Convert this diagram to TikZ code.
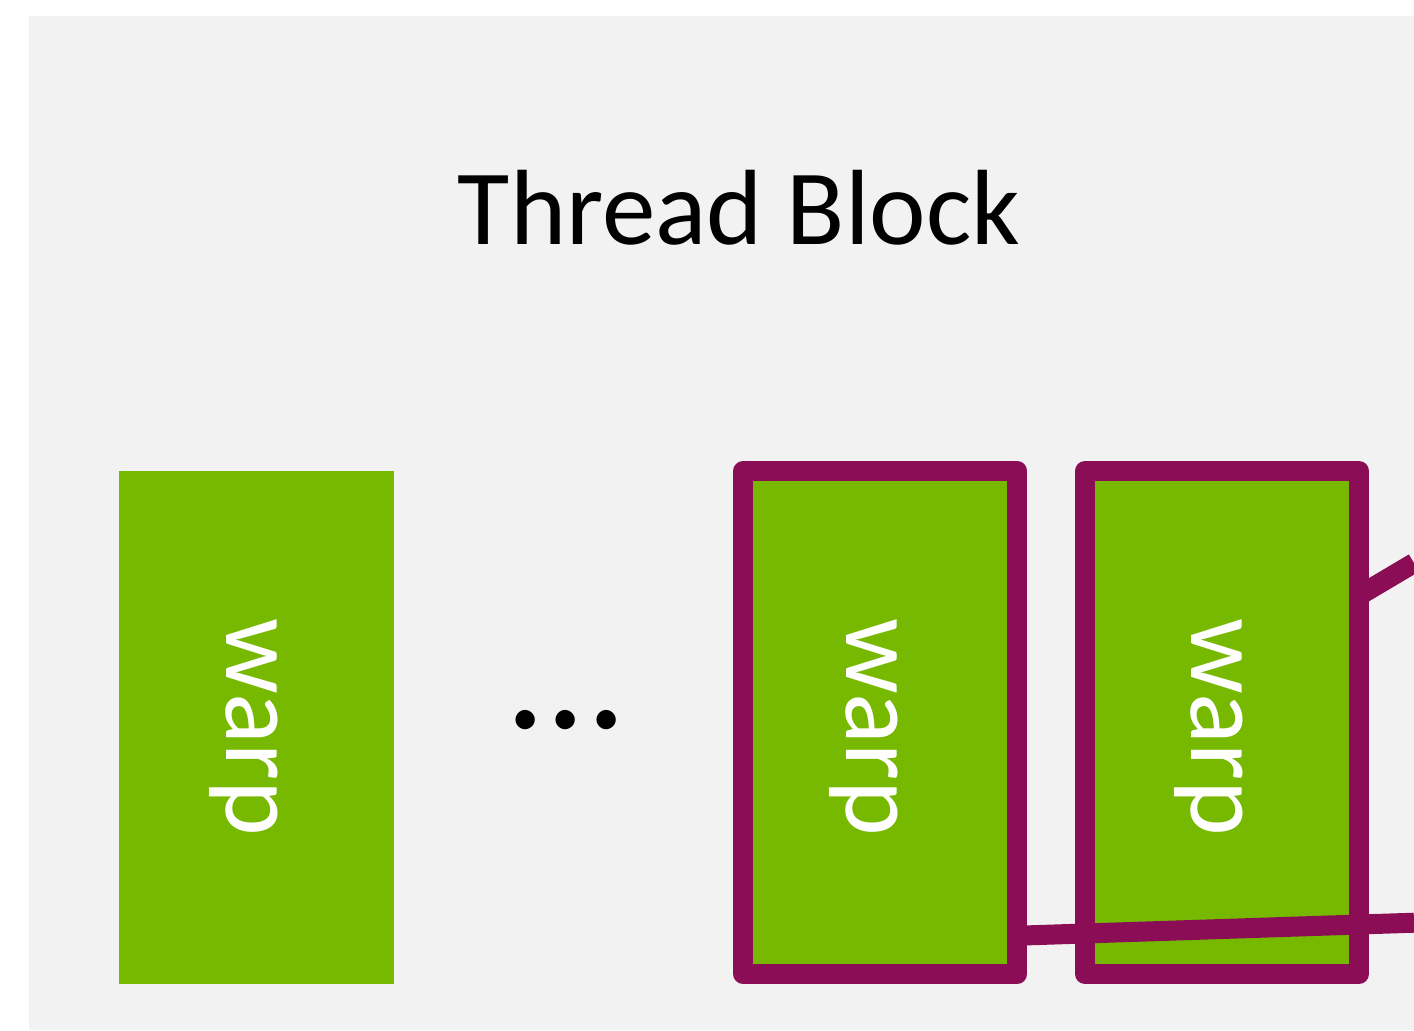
\documentclass[tikz,border=0pt]{standalone}
\usepackage{fontspec}
\setmainfont{Carlito}
\usetikzlibrary{calc}
\definecolor{panelgray}{HTML}{F2F2F2}
\definecolor{warpgreen}{HTML}{76B900}
\definecolor{hilite}{HTML}{8A0D56}
\begin{document}
\begin{tikzpicture}[x=0.5pt,y=-0.5pt,
  warpbox/.style={fill=warpgreen, inner sep=0pt, outer sep=0pt,
    minimum width=137pt, minimum height=251.5pt},
  selected/.style={warpbox, draw=hilite, line width=10pt, line join=round},
  warplabel/.style={text=white, rotate=-90, font=\fontsize{53}{60}\selectfont},
  link/.style={draw=hilite, line width=10pt}]
  % page and panel
  \useasboundingbox (0,0) rectangle (1414,1030);
  \fill[white] (0,0) rectangle (1414,1030);
  \fill[panelgray] (29,16) rectangle (1414,1030);
  % title
  \node[anchor=base, font=\fontsize{53.5}{60}\selectfont] (title) at (739,244) {Thread Block};
  % warps
  \node[warpbox, minimum width=137.5pt, minimum height=256.5pt] (w1) at (256.5,727.5) {};
  \node[warplabel] (l1) at ($(w1.center)+(-13,0)$) {warp};
  \node[anchor=base, font=\fontsize{80}{90}\selectfont] (dots) at (566,728) {...};
  \node[selected] (w2) at (880.25,722.5) {};
  \node[warplabel] (l2) at ($(w2.center)+(-16.5,5)$) {warp};
  \node[selected] (w3) at (1222,722.5) {};
  \node[warplabel] (l3) at ($(w3.center)+(-13,5)$) {warp};
  % connectors leaving the panel
  \coordinate (outlow) at (1414,922.7);
  \coordinate (outhigh) at (1414,563);
  \path[link] ($(w2.east)+(0,213.2)$) -- (outlow);
  \path[link] ($(w3.east)+(0,-126.9)$) -- (outhigh);
\end{tikzpicture}
\end{document}
